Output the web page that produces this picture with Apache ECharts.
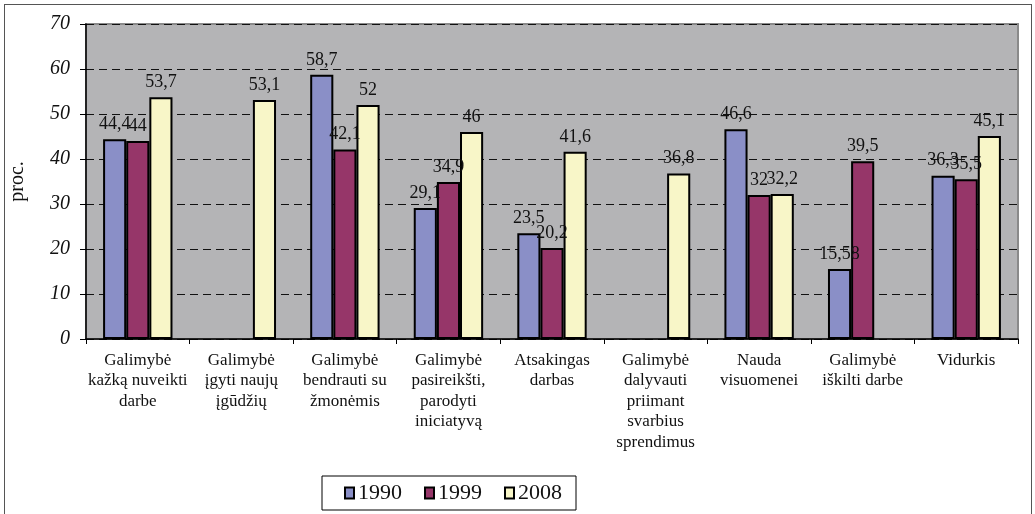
<!DOCTYPE html>
<html>
<head>
<meta charset="utf-8">
<script src="https://cdn.jsdelivr.net/npm/echarts@6/dist/echarts.min.js"></script>
<style>
    html, body {margin: 0; padding: 0; background: #fff;}
    #frame {position: absolute; left: 4px; top: 4px; width: 1026px; height: 530px; border: 1px solid #555;}
    #chart {position: absolute; left: 0; top: 0; width: 1035px; height: 514px;}
</style>
</head>
<body>
<div id="frame"></div>
<div id="chart"></div>
<script>
let categories = [
    'Galimybė\nkažką nuveikti\ndarbe',
    'Galimybė\nįgyti naujų\nįgūdžių',
    'Galimybė\nbendrauti su\nžmonėmis',
    'Galimybė\npasireikšti,\nparodyti\niniciatyvą',
    'Atsakingas\ndarbas',
    'Galimybė\ndalyvauti\npriimant\nsvarbius\nsprendimus',
    'Nauda\nvisuomenei',
    'Galimybė\niškilti darbe',
    'Vidurkis'
]
let years = ['1990', '1999', '2008']
let v1990 = [44.4, null, 58.7, 29.1, 23.5, null, 46.6, 15.58, 36.3]
let v1999 = [44, null, 42.1, 34.9, 20.2, null, 32, 39.5, 35.5]
let v2008 = [53.7, 53.1, 52, 46, 41.6, 36.8, 32.2, null, 45.1]
let colors = ['#8a8fc7', '#963669', '#f8f6c8']

let font = "'Liberation Serif', 'Times New Roman', serif"
let chart = echarts.init(document.getElementById('chart'))

function makeSeries(name, data, color) {
    return {
        name: name,
        type: 'bar',
        data: data,
        barGap: '0%',
        barCategoryGap: '33%',
        itemStyle: {color: color, borderColor: '#000', borderWidth: 2},
        label: {
            show: true,
            position: 'top',
            distance: 6,
            color: '#111',
            fontFamily: font,
            fontSize: 18,
            formatter: p => String(p.value).replace('.', ',')
        }
    }
}

let option = {
    animation: false,
    grid: {
        left: 85, right: 17, top: 24, bottom: 175,
        show: true, backgroundColor: '#b4b4b6', borderColor: '#8a8a8a', borderWidth: 2
    },
    legend: {
        data: years,
        left: 322, top: 476,
        padding: [6, 14, 6, 22],
        itemGap: 22,
        itemWidth: 9, itemHeight: 11,
        icon: 'rect',
        borderColor: '#000', borderWidth: 1,
        textStyle: {fontFamily: font, fontSize: 22, color: '#111', padding: [0, 0, 0, -1]}
    },
    xAxis: {
        type: 'category',
        data: categories,
        axisLine: {lineStyle: {color: '#000', width: 1.5}},
        axisTick: {show: true, length: 5, lineStyle: {color: '#000'}},
        axisLabel: {
            color: '#111', fontFamily: font, fontSize: 17, lineHeight: 20.5, margin: 11,
            interval: 0
        }
    },
    yAxis: {
        type: 'value',
        min: 0, max: 70, interval: 10,
        name: 'proc.',
        nameLocation: 'middle',
        nameGap: 58,
        nameRotate: 90,
        nameTextStyle: {fontFamily: font, fontSize: 20, color: '#111'},
        axisLine: {show: true, lineStyle: {color: '#000', width: 1.5}},
        axisTick: {show: true, length: 6, lineStyle: {color: '#000'}},
        axisLabel: {color: '#111', fontFamily: font, fontStyle: 'italic', fontSize: 20, margin: 16},
        splitLine: {show: true, lineStyle: {color: '#111', type: [8, 5], width: 1}}
    },
    series: [
        makeSeries(years[0], v1990, colors[0]),
        makeSeries(years[1], v1999, colors[1]),
        makeSeries(years[2], v2008, colors[2])
    ]
}
chart.setOption(option)
</script>
</body>
</html>
